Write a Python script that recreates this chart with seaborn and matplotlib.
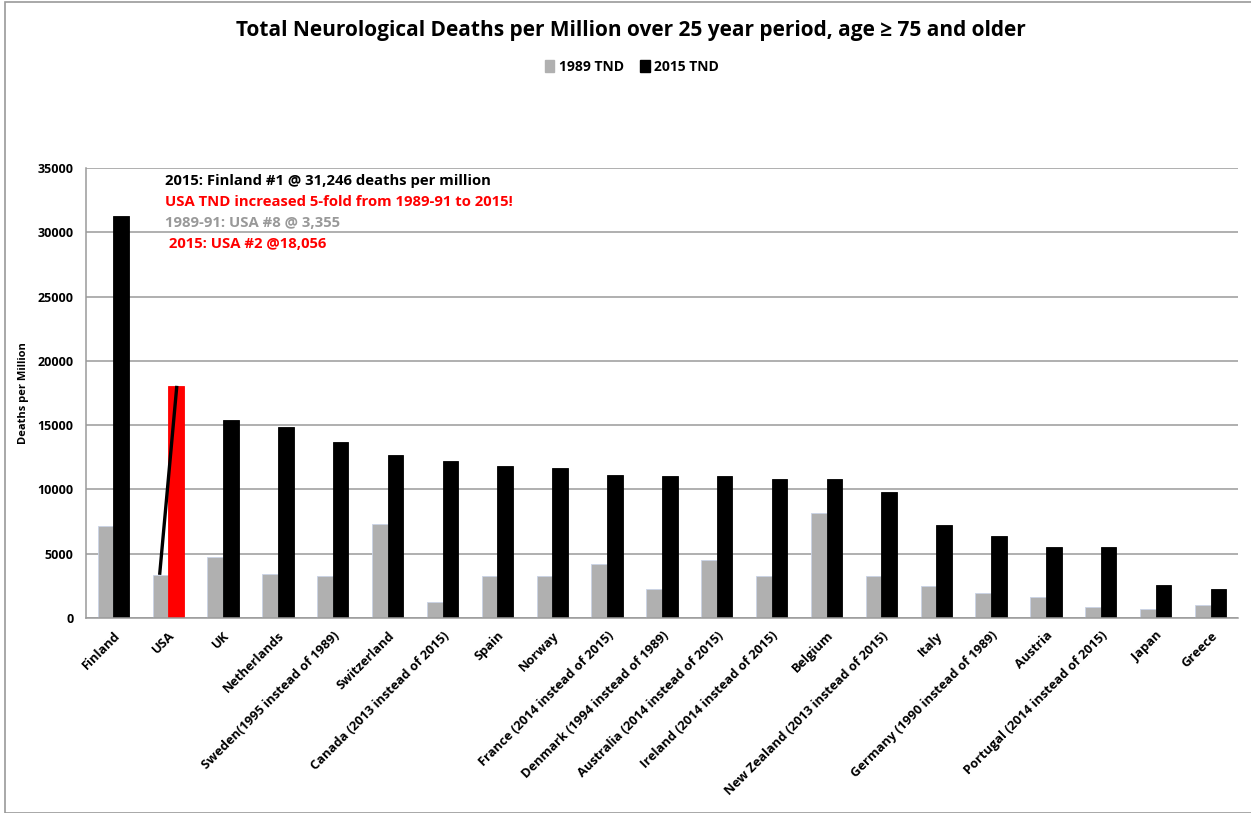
import numpy as np
import pandas as pd
import matplotlib
matplotlib.use("Agg")
import matplotlib.pyplot as plt
from matplotlib.patches import Rectangle
import seaborn as sns

# ------------------------------------------------------------------
# Data
# ------------------------------------------------------------------
countries = [
    "Finland", "USA", "UK", "Netherlands", "Sweden(1995 instead of 1989)",
    "Switzerland", "Canada (2013 instead of 2015)", "Spain", "Norway",
    "France (2014 instead of 2015)", "Denmark (1994 instead of 1989)",
    "Australia (2014 instead of 2015)", "Ireland (2014 instead of 2015)",
    "Belgium", "New Zealand (2013 instead of 2015)", "Italy",
    "Germany (1990 instead of 1989)", "Austria", "Portugal (2014 instead of 2015)",
    "Japan", "Greece",
]
tnd_1989 = [7150, 3355, 4750, 3400, 3270, 7300, 1280, 3300, 3300, 4180, 2260,
            4470, 3300, 8150, 3250, 2500, 1980, 1620, 880, 730, 1040]
tnd_2015 = [31246, 18056, 15400, 14830, 13720, 12640, 12220, 11830, 11700,
            11130, 11050, 11050, 10770, 10770, 9800, 7260, 6390, 5500, 5500,
            2600, 2240]
series = ["1989 TND", "2015 TND"]
y_ticks = [0, 5000, 10000, 15000, 20000, 25000, 30000, 35000]

notes = [
    ("2015: Finland #1 @ 31,246 deaths per million", "black"),
    ("USA TND increased 5-fold from 1989-91 to 2015!", "#ff0000"),
    ("1989-91: USA #8 @ 3,355", "#999999"),
    (" 2015: USA #2 @18,056", "#ff0000"),
]

df = pd.DataFrame({
    "country": countries * 2,
    "deaths": tnd_1989 + tnd_2015,
    "series": [series[0]] * len(countries) + [series[1]] * len(countries),
})

# ------------------------------------------------------------------
# Figure
# ------------------------------------------------------------------
sns.set_style("white")
plt.rcParams["font.family"] = ["Open Sans", "DejaVu Sans"]
plt.rcParams["font.weight"] = "bold"
plt.rcParams["text.color"] = "black"
plt.rcParams["axes.labelcolor"] = "black"

fig = plt.figure(figsize=(12.51, 8.13), dpi=100)
ax = fig.add_axes([0.0687, 0.2399, 0.9209, 0.5535])

sns.barplot(data=df, x="country", y="deaths", hue="series",
            palette={"1989 TND": "#b0b0b0", "2015 TND": "black"},
            width=0.57, gap=0, saturation=1, ax=ax, legend=False)

for p in ax.containers[0]:
    p.set_edgecolor("#c9d3e6"); p.set_linewidth(0.6)
for p in ax.containers[1]:
    p.set_edgecolor("black"); p.set_linewidth(0.6)

# highlight USA 2015 bar and draw the "increase" line
usa = countries.index("USA")
red_bar = ax.containers[1][usa]
red_bar.set_facecolor("#ff0000"); red_bar.set_edgecolor("#ff0000")
grey_bar = ax.containers[0][usa]
x0 = grey_bar.get_x() + grey_bar.get_width() * 0.45
x1 = red_bar.get_x() + red_bar.get_width() * 0.55
ax.plot([x0, x1], [grey_bar.get_height(), red_bar.get_height()],
        color="black", linewidth=2.4, solid_capstyle="butt")

# axes styling (Excel look)
ax.set_ylim(0, 35000)
ax.set_xlim(-0.5, len(countries) - 0.5)
ax.set_yticks(y_ticks)
ax.set_yticklabels([str(v) for v in y_ticks], fontsize=9, fontweight="bold")
ax.yaxis.grid(True, color="#9a9a9a", linewidth=1.1)
ax.set_axisbelow(True)
ax.tick_params(axis="y", length=5, color="#9a9a9a", labelcolor="black", width=1, pad=4)
ax.set_xticks(range(len(countries)))
ax.set_xticklabels(countries, rotation=45, ha="right", rotation_mode="anchor",
                   fontsize=9.3, fontweight="bold")
ax.tick_params(axis="x", length=0, pad=8, labelcolor="black")
ax.set_xticks(np.arange(-0.5, len(countries), 1.0), minor=True)
ax.tick_params(axis="x", which="minor", length=5, color="#9a9a9a", width=1)
for side in ["top", "right"]:
    ax.spines[side].set_visible(False)
for side in ["left", "bottom"]:
    ax.spines[side].set_color("#9a9a9a")
    ax.spines[side].set_linewidth(1.1)
ax.set_xlabel("")
ax.set_ylabel("Deaths per Million", fontsize=8, fontweight="bold")
ax.yaxis.set_label_coords(-0.049, 0.5)

# annotation block
for i, (txt, col) in enumerate(notes):
    ax.text(0.069, 0.97 - i * 0.046, txt, transform=ax.transAxes, color=col,
            fontsize=10.7, fontweight="bold", va="center", ha="left")

# title and legend
fig.text(0.504, 0.963, "Total Neurological Deaths per Million over 25 year period, age \u2265 75 and older",
         ha="center", va="center", fontsize=15, fontweight="bold")
handles = [Rectangle((0, 0), 1, 1, color="#b0b0b0"), Rectangle((0, 0), 1, 1, color="black")]
fig.legend(handles, series, loc="center", bbox_to_anchor=(0.505, 0.918), ncol=2,
           frameon=False, fontsize=10, handlelength=0.7, handleheight=0.9,
           handletextpad=0.3, columnspacing=1.2)

# outer chart frame
fig.patches.append(Rectangle((0.004, 0.0), 1.2, 0.997, transform=fig.transFigure,
                             fill=False, edgecolor="#9a9a9a", linewidth=1.2))

fig.savefig("out.png", dpi=100)
